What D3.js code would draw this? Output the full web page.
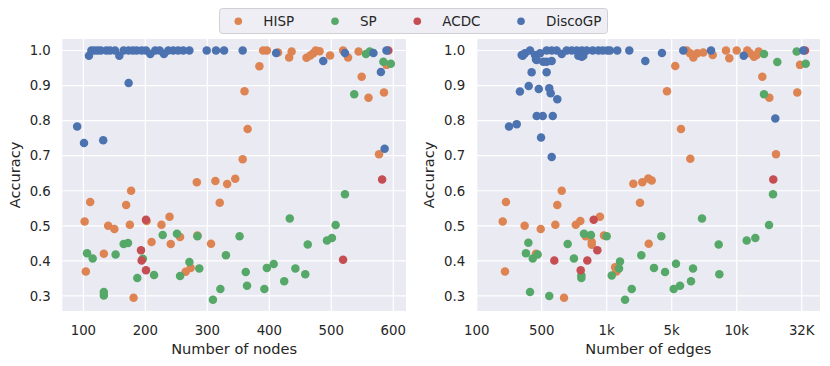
<!DOCTYPE html>
<html><head><meta charset="utf-8">
<script src="https://cdn.jsdelivr.net/npm/d3@7"></script>
<style>body{margin:0;background:#fff}svg{display:block;font-family:"DejaVu Sans",sans-serif}</style>
</head><body><svg id="c" width="830" height="366"></svg>
<script>
// ---------- data ----------
const seriesNames = ["HISP", "SP", "ACDC", "DiscoGP"];
const seriesColors = ["#DD8452", "#55A868", "#C44E52", "#4C72B0"];

const yTicks = [0.3, 0.4, 0.5, 0.6, 0.7, 0.8, 0.9, 1.0];
const nodeTicks = [100, 200, 300, 400, 500, 600];
const edgeTicks = [100, 500, 1000, 5000, 10000, 32000];
const edgeTickLabels = ["100", "500", "1k", "5k", "10k", "32K"];

// [number of nodes, accuracy]
const hispNodes = [[102,0.512],[104,0.370],[111,0.568],[133,0.420],[140,0.500],[150,0.491],[169,0.559],[175,0.503],[177,0.600],[181,0.295],[202,0.514],[210,0.454],[226,0.503],[239,0.526],[241,0.448],[256,0.468],[265,0.369],[273,0.380],[283,0.624],[284,0.472],[306,0.449],[313,0.628],[320,0.566],[332,0.619],[345,0.634],[357,0.690],[360,0.884],[365,0.776],[384,0.955],[390,1.0],[396,1.0],[414,0.994],[432,0.980],[436,0.997],[460,0.979],[466,0.986],[471,0.992],[475,1.0],[481,0.998],[498,0.986],[519,1.0],[527,0.980],[544,0.997],[549,0.925],[560,0.865],[577,0.704],[585,0.880],[589,0.959]];
const spNodes = [[106,0.422],[115,0.407],[133,0.311],[133,0.301],[152,0.418],[165,0.448],[172,0.451],[187,0.351],[196,0.406],[214,0.360],[228,0.474],[251,0.477],[256,0.357],[271,0.397],[284,0.470],[287,0.378],[309,0.289],[321,0.320],[330,0.416],[352,0.470],[362,0.368],[364,0.329],[392,0.320],[396,0.380],[407,0.391],[424,0.342],[433,0.521],[442,0.378],[458,0.362],[462,0.447],[493,0.458],[501,0.465],[507,0.502],[522,0.590],[537,0.875],[556,0.990],[562,0.997],[584,0.968],[596,0.962]];
const acdcNodes = [[193,0.430],[194,0.401],[201,0.517],[201,0.373],[519,0.403],[582,0.632],[592,1.0]];
const discoNodes = [[90,0.783],[101,0.736],[109,0.985],[113,1.0],[118,1.0],[123,1.0],[128,1.0],[132,0.744],[137,1.0],[143,1.0],[151,1.0],[158,0.985],[165,1.0],[173,1.0],[173,0.907],[180,1.0],[186,1.0],[194,1.0],[201,1.0],[208,0.990],[216,1.0],[223,1.0],[230,0.990],[237,1.0],[245,1.0],[253,1.0],[261,1.0],[271,1.0],[299,1.0],[314,1.0],[327,1.0],[357,1.0],[411,0.993],[487,0.970],[522,0.993],[568,0.993],[580,0.939],[586,0.720],[589,1.0]];

// [number of edges, accuracy]
const hispEdges = [[260,0.512],[274,0.370],[280,0.568],[395,0.500],[465,0.420],[494,0.491],[605,0.503],[620,0.559],[654,0.600],[672,0.295],[762,0.503],[797,0.514],[838,0.470],[885,0.454],[885,0.446],[948,0.526],[979,0.472],[1520,0.382],[1600,0.370],[2640,0.620],[3050,0.566],[3190,0.624],[3560,0.635],[3585,0.449],[3770,0.629],[4710,0.884],[5275,0.956],[5715,0.776],[6155,1.0],[6410,0.992],[6430,0.691],[6665,0.980],[6970,0.992],[7430,0.994],[8155,0.987],[9175,1.0],[9430,0.978],[10000,1.0],[13590,1.0],[14510,0.992],[15850,0.982],[16780,0.987],[17440,0.997],[18670,0.925],[21040,0.865],[23300,0.704],[30500,0.880],[31430,0.959]];
const spEdges = [[403,0.422],[418,0.452],[428,0.311],[445,0.407],[475,0.418],[558,0.300],[700,0.448],[748,0.407],[805,0.358],[805,0.351],[825,0.477],[879,0.474],[1000,0.470],[1310,0.358],[1760,0.378],[1820,0.398],[2130,0.289],[2540,0.320],[3130,0.416],[3910,0.380],[4360,0.470],[4590,0.368],[5155,0.320],[5330,0.392],[5640,0.329],[6485,0.342],[6640,0.378],[7330,0.521],[8615,0.447],[8665,0.362],[13390,0.458],[16300,0.465],[19240,0.875],[19240,0.990],[20940,0.502],[22280,0.590],[23750,0.967],[30300,0.997],[33360,0.962]];
const acdcEdges = [[597,0.401],[800,0.373],[851,0.401],[900,0.517],[928,0.430],[22380,0.632],[33100,1.0]];
const discoEdges = [[299,0.783],[346,0.790],[366,0.883],[377,0.987],[383,0.985],[397,0.992],[420,0.899],[428,1.0],[438,0.938],[459,0.987],[465,0.975],[469,0.813],[469,0.973],[482,0.890],[490,0.992],[496,0.752],[508,0.813],[512,0.968],[538,0.938],[538,1.0],[538,0.968],[558,0.892],[569,0.878],[577,0.970],[577,0.696],[577,1.0],[585,0.813],[615,1.0],[620,0.861],[654,0.990],[692,1.0],[731,1.0],[769,1.0],[782,0.985],[808,1.0],[808,0.982],[820,0.985],[846,1.0],[892,1.0],[936,1.0],[969,1.0],[1040,1.0],[1200,1.0],[1650,1.0],[2390,1.0],[3375,0.970],[4400,0.993],[5890,1.0],[8025,1.0],[12380,0.985],[23070,0.806],[32550,1.0]];

// ---------- drawing ----------
const svg = d3.select("#c");
const textColor = "#262626";
const plotTop = 39, plotBottom = 311;

const y = d3.scaleLinear().domain([0.257, 1.0328]).range([plotBottom, plotTop]);

const panels = [
  {
    left: 62.3, right: 406,
    x: d3.scaleLinear().domain([66, 620.5]).range([62.3, 406]),
    ticks: nodeTicks, labels: nodeTicks.map(String),
    title: "Number of nodes",
    series: [hispNodes, spNodes, acdcNodes, discoNodes]
  },
  {
    left: 476.7, right: 820,
    // equally spaced custom ticks, piecewise-linear between them
    x: d3.scaleLinear().domain(edgeTicks).range(edgeTicks.map((d, i) => 476.7 + i * 65)),
    ticks: edgeTicks, labels: edgeTickLabels,
    title: "Number of edges",
    series: [hispEdges, spEdges, acdcEdges, discoEdges]
  }
];

panels.forEach(p => {
  const g = svg.append("g");
  g.append("rect").attr("x", p.left).attr("y", plotTop)
    .attr("width", p.right - p.left).attr("height", plotBottom - plotTop).attr("fill", "#EAEAF2");
  // grid
  g.selectAll(".vg").data(p.ticks).join("line").attr("class", "vg")
    .attr("x1", d => p.x(d)).attr("x2", d => p.x(d))
    .attr("y1", plotTop).attr("y2", plotBottom)
    .attr("stroke", "#fff").attr("stroke-width", 1.2);
  g.selectAll(".hg").data(yTicks).join("line").attr("class", "hg")
    .attr("x1", p.left).attr("x2", p.right)
    .attr("y1", d => y(d)).attr("y2", d => y(d))
    .attr("stroke", "#fff").attr("stroke-width", 1.2);
  // x tick labels
  g.selectAll(".xt").data(p.ticks).join("text").attr("class", "xt")
    .attr("x", d => p.x(d)).attr("y", 335.3)
    .attr("text-anchor", "middle").attr("font-size", 13.3).attr("fill", textColor)
    .text((d, i) => p.labels[i]);
  // y tick labels
  g.selectAll(".yt").data(yTicks).join("text").attr("class", "yt")
    .attr("x", p.left - 11.5).attr("y", d => y(d)).attr("dy", "0.36em")
    .attr("text-anchor", "end").attr("font-size", 13.3).attr("fill", textColor)
    .text(d => d3.format(".1f")(d));
  // axis titles
  g.append("text").attr("x", (p.left + p.right) / 2).attr("y", 354)
    .attr("text-anchor", "middle").attr("font-size", 14.6).attr("fill", textColor)
    .text(p.title);
  g.append("text")
    .attr("transform", `translate(${p.left - 42.5},${(plotTop + plotBottom) / 2}) rotate(-90)`)
    .attr("text-anchor", "middle").attr("font-size", 14.6).attr("fill", textColor)
    .text("Accuracy");
  // points
  p.series.forEach((data, si) => {
    g.append("g").selectAll("circle").data(data).join("circle")
      .attr("cx", d => p.x(d[0])).attr("cy", d => y(d[1]))
      .attr("r", 4.25).attr("fill", seriesColors[si]);
  });
});

// legend
const lg = svg.append("g");
lg.append("rect").attr("x", 219.5).attr("y", 8.5).attr("width", 388).attr("height", 25)
  .attr("rx", 3).attr("fill", "#EEEEF4").attr("stroke", "#CFCFD4").attr("stroke-width", 1);
const legendX = [238.3, 335, 417.3, 521];
seriesNames.forEach((n, i) => {
  lg.append("circle").attr("cx", legendX[i]).attr("cy", 21.3).attr("r", 3.8).attr("fill", seriesColors[i]);
  lg.append("text").attr("x", legendX[i] + 25).attr("y", 26).attr("font-size", 13.5)
    .attr("fill", textColor).text(n);
});
</script>
</body></html>
